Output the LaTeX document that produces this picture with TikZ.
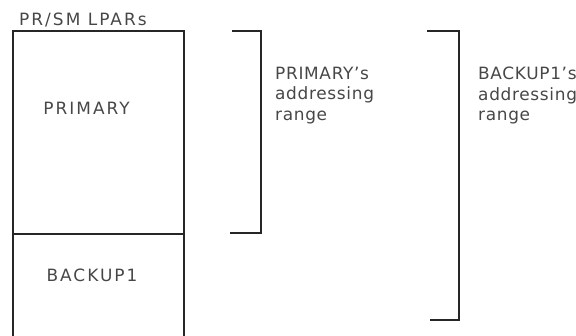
\documentclass[tikz,border=0pt]{standalone}
\usepackage{fontspec}
\setmainfont{DejaVu Sans}
\usetikzlibrary{positioning}
\tikzset{
  lbl/.style={font=\fontsize{17}{19}\selectfont\addfontfeatures{LetterSpace=4}, text=black!72, align=left, inner sep=0pt},
  caps/.style={lbl, font=\fontsize{17}{19}\selectfont\addfontfeatures{LetterSpace=12}},
  edge/.style={line width=2pt, black!85}
}
\begin{document}
\begin{tikzpicture}[x=1bp,y=-1bp,line cap=rect,line join=miter]
\useasboundingbox (0,0) rectangle (576,335);
\clip (0,0) rectangle (576,335);
% the LPAR column
\draw[edge] (13,340) |- (184,31) -- (184,340);
\draw[edge] (13,234) -- (184,234);
\node[caps, anchor=base west] (lpars) at (19,25) {PR/SM LPARs};
\node[caps] (primary) at (86.5,108.5) {PRIMARY};
\node[caps] (backup) at (92,275.5) {BACKUP1};
% ranges
\draw[edge] (233,31) -- (261,31) -- (261,233) -- (231,233);
\draw[edge] (428,31) -- (459,31) -- (459,320) -- (431,320);
\node[lbl, anchor=north west] (primrange) at (275,67) {PRIMARY's\\[1.5pt]addressing\\[1.5pt]range};
\node[lbl, anchor=north west] (backrange) at (478,67) {BACKUP1's\\[1.5pt]addressing\\[1.5pt]range};
\end{tikzpicture}
\end{document}
